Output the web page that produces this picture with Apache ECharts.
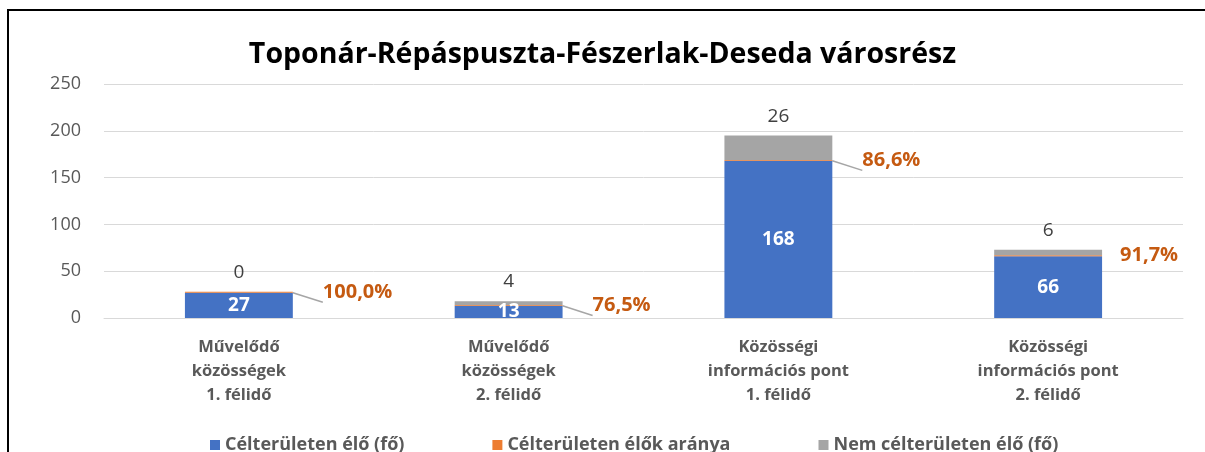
<!DOCTYPE html>
<html>
<head>
<meta charset="utf-8">
<script src="https://cdn.jsdelivr.net/npm/echarts@6/dist/echarts.min.js"></script>
<style>
  html, body { margin: 0; padding: 0; background: #fff; }
  #chart { width: 1205px; height: 452px; }
</style>
</head>
<body>
<div id="chart"></div>
<script>
// categories (x axis)
var categories = [
  "Művelődő\nközösségek\n1. félidő",
  "Művelődő\nközösségek\n2. félidő",
  "Közösségi\ninformációs pont\n1. félidő",
  "Közösségi\ninformációs pont\n2. félidő"
];
// series values
var celteruleten = [27, 13, 168, 66];          // Célterületen élő (fő)
var arany = [1.0, 0.765, 0.866, 0.917];         // Célterületen élők aránya
var nemCelteruleten = [0, 4, 26, 6];            // Nem célterületen élő (fő)

var FONT = "'Open Sans', 'Noto Sans', sans-serif";

var chart = echarts.init(document.getElementById("chart"));

var option = {
  animation: false,
  textStyle: { fontFamily: FONT },
  title: {
    text: "Toponár-Répáspuszta-Fészerlak-Deseda városrész",
    left: "center",
    top: 35,
    textStyle: { fontSize: 28.5, fontWeight: "bold", color: "#000", fontFamily: FONT }
  },
  graphic: [
    {
      type: "rect",
      shape: { x: 8, y: 10, width: 1210, height: 460 },
      style: { fill: "none", stroke: "#000", lineWidth: 2 },
      silent: true
    }
  ],
  legend: {
    top: 431,
    left: 205,
    itemWidth: 10,
    itemHeight: 10,
    itemGap: 88,
    icon: "rect",
    textStyle: { fontSize: 18, fontWeight: "bold", color: "#595959", fontFamily: FONT },
    data: ["Célterületen élő (fő)", "Célterületen élők aránya", "Nem célterületen élő (fő)"]
  },
  grid: { left: 104, right: 22, top: 84, bottom: 134 },
  xAxis: {
    type: "category",
    data: categories,
    axisLine: { show: true, lineStyle: { color: "#d9d9d9", width: 1 } },
    axisTick: { show: false },
    axisLabel: {
      color: "#595959",
      fontSize: 16.5,
      fontWeight: "bold",
      lineHeight: 24,
      margin: 17,
      fontFamily: FONT
    }
  },
  yAxis: {
    type: "value",
    min: 0,
    max: 250,
    interval: 50,
    axisLine: { show: false },
    axisTick: { show: false },
    axisLabel: { color: "#595959", fontSize: 18, margin: 23, fontFamily: FONT },
    splitLine: { lineStyle: { color: "#d9d9d9", width: 1 } }
  },
  series: [
    {
      name: "Célterületen élő (fő)",
      type: "bar",
      stack: "total",
      barWidth: "40%",
      itemStyle: { color: "#4472C4" },
      label: {
        show: true,
        position: "inside",
        color: "#fff",
        fontSize: 19,
        fontWeight: "bold",
        fontFamily: FONT
      },
      data: celteruleten
    },
    {
      name: "Célterületen élők aránya",
      type: "bar",
      stack: "total",
      itemStyle: { color: "#ED7D31" },
      label: {
        show: true,
        position: "right",
        distance: 30,
        color: "#C55A11",
        fontSize: 20,
        fontWeight: "bold",
        fontFamily: FONT,
        formatter: function (p) {
          return (p.value * 100).toFixed(1).replace(".", ",") + "%";
        }
      },
      labelLine: { show: true, lineStyle: { color: "#a6a6a6", width: 1.5 } },
      data: arany.map(function (v, i) {
        if (i === 3) {
          return { value: v, label: { distance: 18 }, labelLine: { show: false } };
        }
        return v;
      })
    },
    {
      name: "Nem célterületen élő (fő)",
      type: "bar",
      stack: "total",
      itemStyle: { color: "#A5A5A5" },
      label: {
        show: true,
        position: "top",
        distance: 10,
        color: "#404040",
        fontSize: 19,
        fontFamily: FONT
      },
      data: nemCelteruleten
    }
  ]
};

chart.setOption(option);
</script>
</body>
</html>
